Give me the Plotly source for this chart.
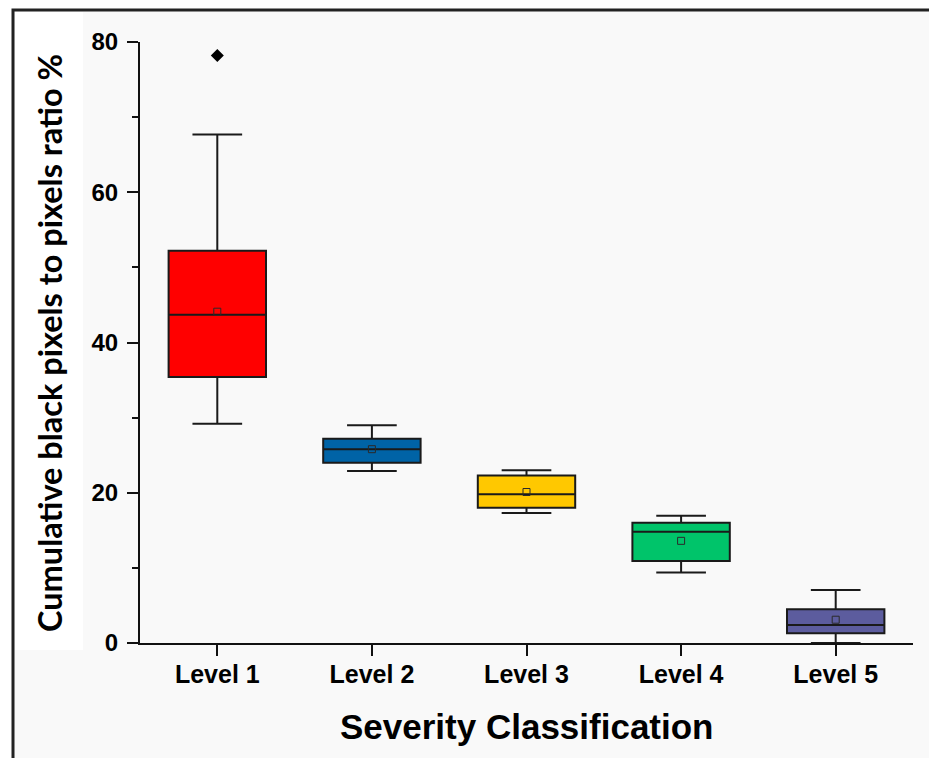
import plotly.graph_objects as go

levels = ["Level 1", "Level 2", "Level 3", "Level 4", "Level 5"]
lower_whisker = [29.2, 22.9, 17.3, 9.4, 0.0]
q1 = [35.4, 24.0, 18.0, 10.9, 1.3]
median = [43.7, 25.8, 19.8, 14.8, 2.4]
q3 = [52.2, 27.2, 22.3, 16.0, 4.5]
upper_whisker = [67.7, 29.0, 23.0, 16.95, 7.05]
means = [44.1, 25.8, 20.1, 13.6, 3.1]
outlier_level = ["Level 1"]
outlier_value = [78.2]
fill_colors = ["#ff0000", "#0063a6", "#ffc800", "#00c46a", "#5c5c9e"]

W, H = 929, 758
L, R, T, B = 140, 16, 42, 115
pw, ph = W - L - R, H - T - B

def px(x):
    return (x - L) / pw

def py(y):
    return (H - B - y) / ph

fig = go.Figure()
for i, lev in enumerate(levels):
    fig.add_trace(go.Box(
        x=[lev], q1=[q1[i]], median=[median[i]], q3=[q3[i]],
        lowerfence=[lower_whisker[i]], upperfence=[upper_whisker[i]],
        fillcolor=fill_colors[i], line=dict(color="#1a1a1a", width=2),
        width=0.63, whiskerwidth=0.51, boxpoints=False, showlegend=False,
        hoverinfo="skip",
    ))

fig.add_trace(go.Scatter(
    x=levels, y=means, mode="markers",
    marker=dict(symbol="square-open", size=7, color="#2a2a2a", line=dict(width=1)),
    showlegend=False, hoverinfo="skip",
))
fig.add_trace(go.Scatter(
    x=outlier_level, y=outlier_value, mode="markers",
    marker=dict(symbol="diamond", size=10, color="#000000"),
    showlegend=False, hoverinfo="skip",
))

shapes = [
    dict(type="rect", xref="paper", yref="paper", layer="below",
         x0=px(13), x1=px(945), y0=py(10), y1=py(775),
         fillcolor="#f9f9f9", line=dict(color="#222222", width=3)),
    dict(type="rect", xref="paper", yref="paper", layer="below",
         x0=px(15), x1=px(83), y0=py(12), y1=py(650),
         fillcolor="#ffffff", line=dict(width=0)),
]

tickfont = dict(family="Liberation Sans, Arial, sans-serif", size=25, color="#000000")

fig.update_layout(
    width=W, height=H,
    margin=dict(l=L, r=R, t=T, b=B),
    paper_bgcolor="#ffffff",
    plot_bgcolor="rgba(0,0,0,0)",
    boxmode="overlay",
    shapes=shapes,
    font=dict(family="Liberation Sans, Arial, sans-serif", color="#000000"),
    xaxis=dict(
        type="category", categoryorder="array", categoryarray=levels,
        range=[-0.5, 4.5], showline=True, linecolor="#111111", linewidth=2,
        ticks="outside", ticklen=11, tickwidth=2, tickcolor="#111111",
        tickfont=dict(tickfont, size=25, weight="bold"), showgrid=False, zeroline=False,
        ticklabelstandoff=-3,
    ),
    yaxis=dict(
        range=[0, 80], tickvals=[0, 20, 40, 60, 80], showline=True,
        linecolor="#111111", linewidth=2, ticks="outside", ticklen=11,
        tickwidth=2, tickcolor="#111111",
        tickfont=dict(tickfont, size=24, weight="bold"),
        minor=dict(ticks="outside", ticklen=6, tickwidth=2, tickcolor="#111111", dtick=10),
        showgrid=False, zeroline=False, ticklabelstandoff=4,
    ),
    annotations=[
        dict(text="<b>Severity Classification</b>", xref="paper", yref="paper",
             x=px(527), y=py(727), xanchor="center", yanchor="middle", showarrow=False,
             font=dict(family="Liberation Sans, Arial, sans-serif", size=35, color="#000000")),
        dict(text="<b>Cumulative black pixels to pixels ratio %</b>", xref="paper", yref="paper",
             x=px(49), y=py(343), xanchor="center", yanchor="middle", textangle=-90, showarrow=False,
             font=dict(family="Lato, Liberation Sans, sans-serif", size=32.5, color="#000000")),
    ],
)

fig.write_html("out.html", config={"displayModeBar": False},
               post_script="document.body.style.margin='0';document.body.style.overflow='hidden';")
